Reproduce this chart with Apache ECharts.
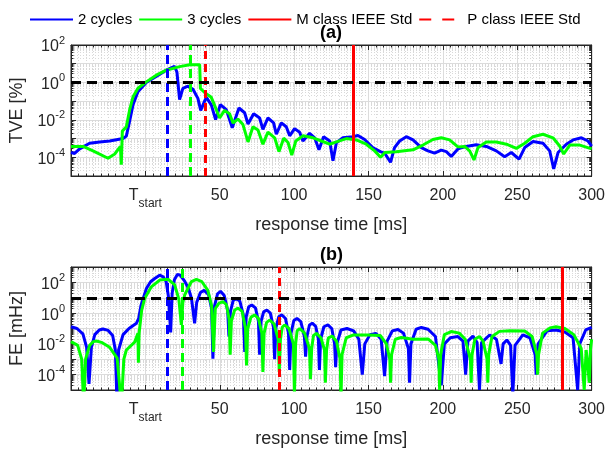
<!DOCTYPE html>
<html><head><meta charset="utf-8">
<script src="https://cdn.jsdelivr.net/npm/echarts@6/dist/echarts.min.js"></script>
<style>html,body{margin:0;padding:0;background:#fff}#c{width:608px;height:450px}</style>
</head><body><div id="c"></div>
<script>
// ---- data: [response time ms, value] ----
const seriesNames = ['2 cycles', '3 cycles', 'M class IEEE Std', 'P class IEEE Std'];
const xTickValues = [-50, 0, 50, 100, 150, 200, 250, 300];

// (a) TVE [%]
const tve2cycles = [[-50,1.8e-4],[-47.6,1.6e-4],[-44.2,2.8e-4],[-37.5,5.6e-4],[-30.7,6.6e-4],[-24,7.4e-4],[-15,1.0e-3],[-12.8,1.35e-3],[-10.6,8.5e-3],[-8.3,6.5e-2],[-5,0.32],[0.6,1.0],[7.3,2.1],[14,4.5],[19.6,7.2],[21.2,3.6],[23,0.12],[25.2,0.48],[28.6,0.63],[32,0.43],[35.3,0.14],[37.2,0.032],[39.8,0.1],[41,0.16],[44.3,0.063],[47.2,0.0105],[50.4,0.065],[54.4,0.035],[58.4,0.0038],[62.9,0.043],[66.7,0.024],[69,0.006],[72.8,0.021],[76.8,0.0126],[79,0.0031],[82.4,0.0126],[86.2,0.0069],[88,0.0017],[91.4,0.0069],[94.7,0.0043],[97,0.0014],[100.3,0.0034],[103.7,0.0022],[105.9,7.4e-4],[110.4,0.0019],[113.8,0.0011],[116.7,2.5e-4],[119.8,0.00126],[123.9,7.4e-4],[126.1,6.6e-5],[128.4,6.0e-4],[132.8,0.0011],[139.5,0.00126],[142.9,0.00145],[147.4,8.9e-4],[153,3.2e-4],[158,2.0e-4],[161,1.6e-4],[164.8,5.4e-5],[167.5,3.3e-4],[170.9,7.4e-4],[175.4,0.00126],[179.9,8.5e-4],[185.5,3.3e-4],[190,2.2e-4],[194.4,1.66e-4],[198.9,2.4e-4],[202.3,2.0e-4],[205.6,1.1e-4],[210.1,2.8e-4],[215.7,3.8e-4],[222.4,4.7e-4],[229.2,3.8e-4],[235.9,2.2e-4],[241.5,1.07e-4],[246,1.8e-4],[251.2,7.9e-5],[255,3.3e-4],[260.6,6.9e-4],[267.3,5.6e-4],[271.8,2.2e-4],[274.5,2.4e-5],[277.4,1.8e-4],[283,5.0e-4],[287.5,8.5e-4],[293.1,0.0011],[297.6,7.4e-4],[300,4.0e-4]];
const tve3cycles = [[-50,3.8e-4],[-41.9,3.8e-4],[-35.2,2.2e-4],[-25.1,8.9e-5],[-20.6,1.5e-4],[-16.8,3.8e-4],[-16.2,4e-5],[-15.5,2.5e-3],[-12.8,4.2e-3],[-10.6,0.034],[-8.3,0.17],[-5,0.49],[0.6,1.07],[7.3,2.45],[14,4.5],[23,7],[29.8,8.7],[36.5,8.9],[37,0.48],[40,0.28],[44.3,0.16],[47.7,0.035],[49.9,0.0126],[53.2,0.032],[56.6,0.021],[58.9,0.0068],[62.2,0.011],[65.6,0.0056],[69,6.6e-4],[72.3,0.0043],[75.7,0.0029],[79,5e-4],[82.4,0.0022],[86.9,0.0011],[89.8,2e-4],[93,0.00105],[95.9,6.2e-4],[98.4,1.3e-4],[101.1,7.4e-4],[106,0.0014],[112.7,0.0011],[118.3,7.4e-4],[123.9,5e-4],[128.4,6.6e-4],[135.1,0.001],[141.8,8.5e-4],[148.5,5e-4],[154.1,2.2e-4],[158.1,1e-4],[161,1.8e-4],[168.6,1.95e-4],[179.9,2.5e-4],[186.6,4.5e-4],[193.3,8.9e-4],[198.9,0.0011],[204.5,8.5e-4],[210.1,3.6e-4],[214.6,3.8e-4],[218,2.2e-4],[220.9,7.2e-5],[223.6,3.3e-4],[229.2,6.6e-4],[235.9,6.6e-4],[242.7,5e-4],[249.4,3e-4],[255,5.6e-4],[260.6,0.00126],[267.3,0.0017],[274,0.0011],[278.5,4e-4],[281.2,1.5e-4],[285.3,4.5e-4],[292,4.5e-4],[300,2.8e-4]];
const tveLimit = 1;              // %
const tveRespTime2 = 15, tveRespTime3 = 30, tveMclass = 140, tvePclass = 40;

// (b) FE [mHz]
const fe2cycles = [[-50,0.13],[-46,0.1],[-42,0.045],[-39.5,0.006],[-37.9,2.5e-5],[-36.3,0.006],[-34,0.04],[-31,0.08],[-28.5,0.093],[-25,0.075],[-22,0.035],[-20.2,0.004],[-19.1,2e-6],[-18,0.004],[-15,0.04],[-11,0.1],[-6,0.22],[-4.5,0.45],[-3,3],[0.7,40],[3.5,110],[6.3,180],[9.6,295],[12,230],[14,110],[15.5,12],[17,0.056],[18,20],[19.5,150],[21.5,330],[23.5,290],[26.4,120],[29,40],[31,9],[33.1,0.22],[34.5,5],[37,22],[39.5,30],[42.5,16],[44.5,2],[45.4,1.1e-3],[46.5,3],[48.5,18],[50.5,26],[53,14],[55.3,1.5],[56.2,0.03],[57.2,1.3],[59,6.5],[61,9],[63.5,6],[65.8,0.8],[66.8,3e-3],[67.8,0.6],[69.5,2.6],[71.5,3.4],[74,2.2],[76,0.3],[76.8,2e-3],[77.8,0.3],[79.5,1.2],[81.7,1.6],[84,1.0],[86.1,0.12],[86.9,1e-3],[87.8,0.12],[89.7,0.6],[91.8,0.76],[94.2,0.45],[96.2,0.05],[97,2e-4],[97.9,0.05],[99.8,0.33],[101.9,0.45],[104.5,0.28],[106.9,0.03],[107.7,1.5e-3],[108.6,0.03],[110.3,0.17],[112.2,0.22],[114.5,0.14],[116.3,0.02],[117,2e-4],[117.8,0.02],[120,0.13],[122.7,0.17],[125.3,0.1],[127.2,0.01],[127.9,3e-4],[128.7,0.01],[131.5,0.08],[135.5,0.1],[140,0.07],[143.5,0.02],[145.8,1e-4],[147.5,0.01],[151,0.04],[155,0.048],[158.5,0.02],[160.8,8e-5],[162.5,0.015],[166,0.07],[169.8,0.087],[173.5,0.05],[176.8,0.005],[177.6,3e-5],[178.5,0.01],[182,0.09],[185.5,0.117],[190,0.09],[195,0.03],[198.9,2e-5],[201,0.01],[205,0.025],[210.1,0.03],[213.5,0.015],[215.3,1e-4],[216.8,0.015],[220.2,0.032],[223,0.012],[224.6,1e-5],[226,0.012],[231.4,0.038],[236,0.02],[239.1,5e-4],[240.5,0.01],[243,0.018],[245.5,0.008],[247,5e-6],[248.5,0.008],[253.7,0.038],[258.5,0.025],[262,0.002],[262.7,1e-4],[264,0.01],[270,0.07],[276.1,0.08],[282,0.06],[287.5,0.025],[290.6,1e-5],[292,0.01],[296,0.08],[300,0.117]];
const fe3cycles = [[-50,0.014],[-45.5,0.008],[-42.8,0.001],[-41.5,1e-6],[-40.2,0.001],[-37.5,0.008],[-35,0.014],[-32.9,0.0155],[-29,0.012],[-24,0.006],[-19,0.0012],[-16.1,1e-6],[-14.5,0.001],[-12.8,0.004],[-7.2,0.013],[-5,0.049],[-4.7,6e-4],[-4.2,0.05],[-2.5,1.5],[-0.5,9],[4,51],[9.6,141],[15.2,162],[19.7,68],[22.5,8],[24.2,0.17],[25.2,5],[26.4,15],[30.9,110],[34.3,155],[38,110],[42,30],[44.5,3],[45.8,3e-3],[47,2],[49.5,4.5],[52.2,5.6],[54.5,3.5],[56.3,0.4],[57,2e-3],[57.8,0.3],[60,1.6],[62.3,2.1],[65,1.3],[67.3,0.1],[68,4e-4],[68.8,0.1],[71,0.55],[73.4,0.76],[76,0.45],[78.3,0.05],[79,1.5e-4],[79.8,0.05],[81.5,0.25],[83.5,0.35],[86.5,0.2],[89.3,0.02],[90,1.5e-4],[90.8,0.02],[92,0.12],[93.6,0.17],[96.5,0.1],[99.5,0.01],[100.2,5e-6],[101,0.01],[102,0.07],[103.7,0.1],[107,0.05],[110.3,0.005],[111,5e-5],[111.8,0.005],[113,0.035],[115,0.048],[118,0.025],[120.4,0.004],[121,3e-5],[121.8,0.004],[123,0.025],[125.5,0.032],[128.5,0.015],[130.9,0.001],[131.5,3e-6],[132.2,0.002],[135,0.025],[140,0.038],[150,0.038],[158,0.035],[162,0.01],[164.3,0.001],[164.8,3e-5],[165.5,0.002],[168,0.02],[172,0.026],[180,0.02],[190,0.021],[195,0.008],[197.3,0.001],[197.8,1e-5],[198.5,0.002],[201,0.04],[205.6,0.063],[211,0.05],[215,0.02],[218.5,0.001],[219,3e-5],[219.6,0.002],[221.5,0.02],[224.6,0.03],[227,0.015],[229.7,0.001],[230.2,3e-5],[230.8,0.002],[233,0.03],[238,0.065],[245,0.072],[255,0.068],[260,0.03],[263.2,0.002],[263.7,1e-4],[264.3,0.002],[267,0.05],[272,0.11],[276,0.13],[282,0.1],[288,0.04],[293,0.005],[295,1e-5],[296.3,0.004],[297.4,5e-4],[298.4,3e-5],[299.2,0.004],[300,0.02]];
const feLimit = 10;              // mHz
const feRespTime2 = 15, feRespTime3 = 25, feMclass = 280, fePclass = 90;

// ---- styling ----
const FONT = '"Liberation Sans", Arial, Helvetica, sans-serif';
const AX = '#262626';
const BLUE = '#0000ff', GREEN = '#00ff00', RED = '#ff0000';

function xAxisPair(gi) {
  const common = {
    type: 'value', gridIndex: gi, min: -50, max: 300, interval: 50,
    axisLine: { show: true, onZero: false, lineStyle: { color: AX, width: 1 } },
    axisTick: { show: true, inside: true, length: 5, lineStyle: { color: AX } },
    minorTick: { show: true, splitNumber: 10, length: 2.5, lineStyle: { color: AX } }
  };
  return [
    Object.assign({}, common, {
      position: 'bottom',
      splitLine: { show: true, lineStyle: { color: '#dcdcdc', width: 1 } },
      minorSplitLine: { show: true, lineStyle: { color: '#d9d9d9', width: 1, type: [1, 2] } },
      axisLabel: {
        margin: 12, color: AX, fontFamily: FONT, fontSize: 16,
        formatter: v => v === 0 ? '{t|T}{s|start}' : (v < 0 ? '' : String(v)),
        rich: {
          t: { fontSize: 16, fontFamily: FONT, color: AX, verticalAlign: 'top', lineHeight: 22 },
          s: { fontSize: 12, fontFamily: FONT, color: AX, verticalAlign: 'bottom', lineHeight: 22 }
        }
      },
      name: 'response time [ms]', nameLocation: 'middle', nameGap: 40,
      nameTextStyle: { fontSize: 18, fontFamily: FONT, color: AX }
    }),
    Object.assign({}, common, {
      position: 'top', axisLabel: { show: false }, splitLine: { show: false }
    })
  ];
}

function yAxisPair(gi, min, max, name) {
  const common = {
    type: 'log', logBase: 10, gridIndex: gi, min: min, max: max,
    axisLine: { show: true, onZero: false, lineStyle: { color: AX, width: 1 } },
    axisTick: { show: true, inside: true, length: 5, lineStyle: { color: AX } },
    minorTick: { show: true, splitNumber: 9, length: 2.5, lineStyle: { color: AX } }
  };
  return [
    Object.assign({}, common, {
      position: 'left',
      splitLine: { show: true, lineStyle: { color: '#dcdcdc', width: 1 } },
      minorSplitLine: { show: true, lineStyle: { color: '#d9d9d9', width: 1, type: [1, 2] } },
      axisLabel: {
        margin: 6, color: AX, fontFamily: FONT, fontSize: 16,
        formatter: v => {
          const l = Math.log10(v), e = Math.round(l);
          if (Math.abs(l - e) > 1e-6 || e % 2 !== 0) return '';
          return '{b|10}{e|' + e + '}';
        },
        rich: {
          b: { fontSize: 16, fontFamily: FONT, color: AX, verticalAlign: 'bottom', lineHeight: 20 },
          e: { fontSize: 11, fontFamily: FONT, color: AX, verticalAlign: 'top', lineHeight: 20 }
        }
      },
      name: name, nameLocation: 'middle', nameGap: 44, nameRotate: 90,
      nameTextStyle: { fontSize: 18, fontFamily: FONT, color: AX }
    }),
    Object.assign({}, common, {
      position: 'right', axisLabel: { show: false }, splitLine: { show: false }
    })
  ];
}

function vline(x, color, dash) {
  return { xAxis: x, lineStyle: { color: color, width: 3, type: dash } };
}
function mk(lines) {
  return { silent: true, symbol: ['none', 'none'], label: { show: false },
           emphasis: { disabled: true }, data: lines, animation: false };
}

function curve(name, data, color, xi, yi, lines) {
  return { name: name, type: 'line', data: data, xAxisIndex: xi, yAxisIndex: yi,
           showSymbol: false, symbol: 'none', clip: true, z: 3,
           lineStyle: { color: color, width: 3 }, itemStyle: { color: color },
           markLine: mk(lines) };
}
function limitSeries(name, xi, yi, color, dash, lines) {
  return { name: name, type: 'line', data: [], xAxisIndex: xi, yAxisIndex: yi,
           symbol: 'none', z: 4,
           lineStyle: { color: color, width: 3, type: dash }, itemStyle: { color: color },
           markLine: mk(lines) };
}

const option = {
  animation: false,
  backgroundColor: '#ffffff',
  textStyle: { fontFamily: FONT },
  title: [
    { text: '(a)', left: 320, top: 24, padding: 0,
      textStyle: { fontSize: 18, fontWeight: 'bold', fontFamily: FONT, color: '#000' } },
    { text: '(b)', left: 320, top: 246, padding: 0,
      textStyle: { fontSize: 18, fontWeight: 'bold', fontFamily: FONT, color: '#000' } }
  ],
  legend: {
    show: true, left: 29, top: 12, padding: 0, itemWidth: 43, itemHeight: 14, itemGap: 6,
    itemStyle: { opacity: 0 },
    textStyle: { fontSize: 15, fontFamily: FONT, color: '#000' },
    data: [
      { name: seriesNames[0] },
      { name: seriesNames[1] },
      { name: seriesNames[2] },
      { name: seriesNames[3], lineStyle: { type: [12, 11] } }
    ]
  },
  grid: [
    { left: 71, right: 16, top: 45, height: 131, show: true, borderColor: AX, borderWidth: 1, backgroundColor: '#fff' },
    { left: 71, right: 16, top: 267, height: 123, show: true, borderColor: AX, borderWidth: 1, backgroundColor: '#fff' }
  ],
  xAxis: xAxisPair(0).concat(xAxisPair(1)),
  yAxis: yAxisPair(0, 1e-5, 1e2, 'TVE [%]').concat(yAxisPair(1, 1e-5, 1e3, 'FE [mHz]')),
  series: [
    curve(seriesNames[0], tve2cycles, BLUE, 0, 0, [vline(tveRespTime2, BLUE, [9, 5])]),
    curve(seriesNames[1], tve3cycles, GREEN, 0, 0, [vline(tveRespTime3, GREEN, [9, 5])]),
    limitSeries(seriesNames[2], 0, 0, RED, 'solid', [vline(tveMclass, RED, 'solid')]),
    limitSeries(seriesNames[3], 0, 0, RED, [8, 5], [vline(tvePclass, RED, [8, 5])]),
    limitSeries('TVE limit', 0, 0, '#000', [10, 6], [{ yAxis: tveLimit, lineStyle: { color: '#000', width: 3, type: [10, 6] } }]),

    curve(seriesNames[0], fe2cycles, BLUE, 2, 2, [vline(feRespTime2, BLUE, [9, 5])]),
    curve(seriesNames[1], fe3cycles, GREEN, 2, 2, [vline(feRespTime3, GREEN, [9, 5])]),
    limitSeries(seriesNames[2], 2, 2, RED, 'solid', [vline(feMclass, RED, 'solid')]),
    limitSeries(seriesNames[3], 2, 2, RED, [8, 5], [vline(fePclass, RED, [8, 5])]),
    limitSeries('FE limit', 2, 2, '#000', [10, 6], [{ yAxis: feLimit, lineStyle: { color: '#000', width: 3, type: [10, 6] } }])
  ]
};

const chart = echarts.init(document.getElementById('c'), null, { renderer: 'canvas' });
chart.setOption(option);
</script>
</body></html>
